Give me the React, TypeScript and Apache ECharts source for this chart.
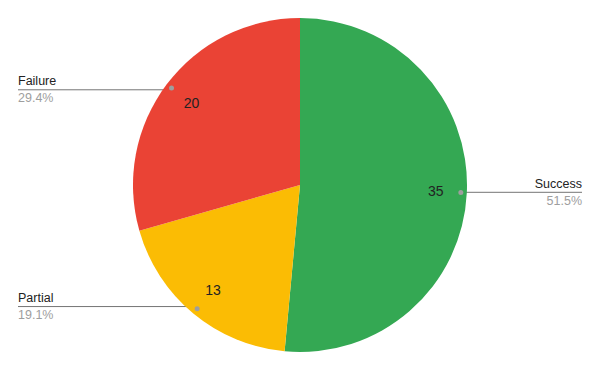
import React, { useEffect, useRef } from "react";
import * as echarts from "echarts";

const categories = ["Success", "Partial", "Failure"];
const values = [35, 13, 20];
const colors = ["#34A853", "#FBBC04", "#EA4335"];

const CENTER = [300, 185];
const R = 167;

export default function App() {
  const ref = useRef<HTMLDivElement>(null);
  useEffect(() => {
    document.body.style.margin = "0";
    const chart = echarts.init(ref.current!, null, { renderer: "svg" });
    const data = categories.map((name, i) => ({
      name,
      value: values[i],
      itemStyle: { color: colors[i] },
    }));
    const transparent = categories.map((name, i) => ({
      name,
      value: values[i],
      itemStyle: { color: "rgba(0,0,0,0)" },
    }));
    const common = {
      type: "pie",
      center: CENTER,
      startAngle: 90,
      clockwise: true,
      silent: true,
      animation: false,
      percentPrecision: 1,
      avoidLabelOverlap: false,
      emphasis: { disabled: true },
    };
    chart.setOption({
      animation: false,
      series: [
        {
          ...common,
          radius: R,
          data,
          label: { show: false },
          labelLine: { show: false },
        },
        {
          ...common,
          radius: [99, R],
          data: transparent,
          label: {
            show: true,
            position: "inside",
            formatter: "{c}",
            fontFamily: "Arial",
            fontSize: 14,
            color: "#222",
          },
          labelLine: { show: false },
        },
        {
          ...common,
          radius: [150, 166],
          data: transparent,
          label: {
            show: true,
            position: "inside",
            formatter: "{d| }",
            rich: {
              d: {
                width: 5,
                height: 5,
                borderRadius: 2.5,
                backgroundColor: "#9e9e9e",
              },
            },
          },
          labelLine: { show: false },
        },
        {
          ...common,
          radius: 158,
          data: transparent,
          label: {
            show: true,
            position: "outside",
            formatter: "{a|{b}}\n{p|{d}%}",
            rich: {
              a: { fontFamily: "Arial", fontSize: 12.5, color: "#222", lineHeight: 17 },
              p: { fontFamily: "Arial", fontSize: 12.5, color: "#9e9e9e", lineHeight: 17 },
            },
          },
          labelLine: {
            show: true,
            length: 5,
            length2: 5,
            lineStyle: { color: "#757575", width: 1 },
          },
          labelLayout: (params: any) => {
            const p0 = params.labelLinePoints
              ? params.labelLinePoints[0]
              : [params.rect.x, params.rect.y];
            const left = p0[0] < CENTER[0];
            const ex = left ? 18 : 582;
            return {
              x: ex,
              y: p0[1],
              align: left ? "left" : "right",
              verticalAlign: "middle",
              labelLinePoints: [p0, [ex, p0[1]], [ex, p0[1]]],
            };
          },
        },
      ],
    });
    return () => chart.dispose();
  }, []);
  return <div ref={ref} style={{ width: 600, height: 371 }} />;
}
